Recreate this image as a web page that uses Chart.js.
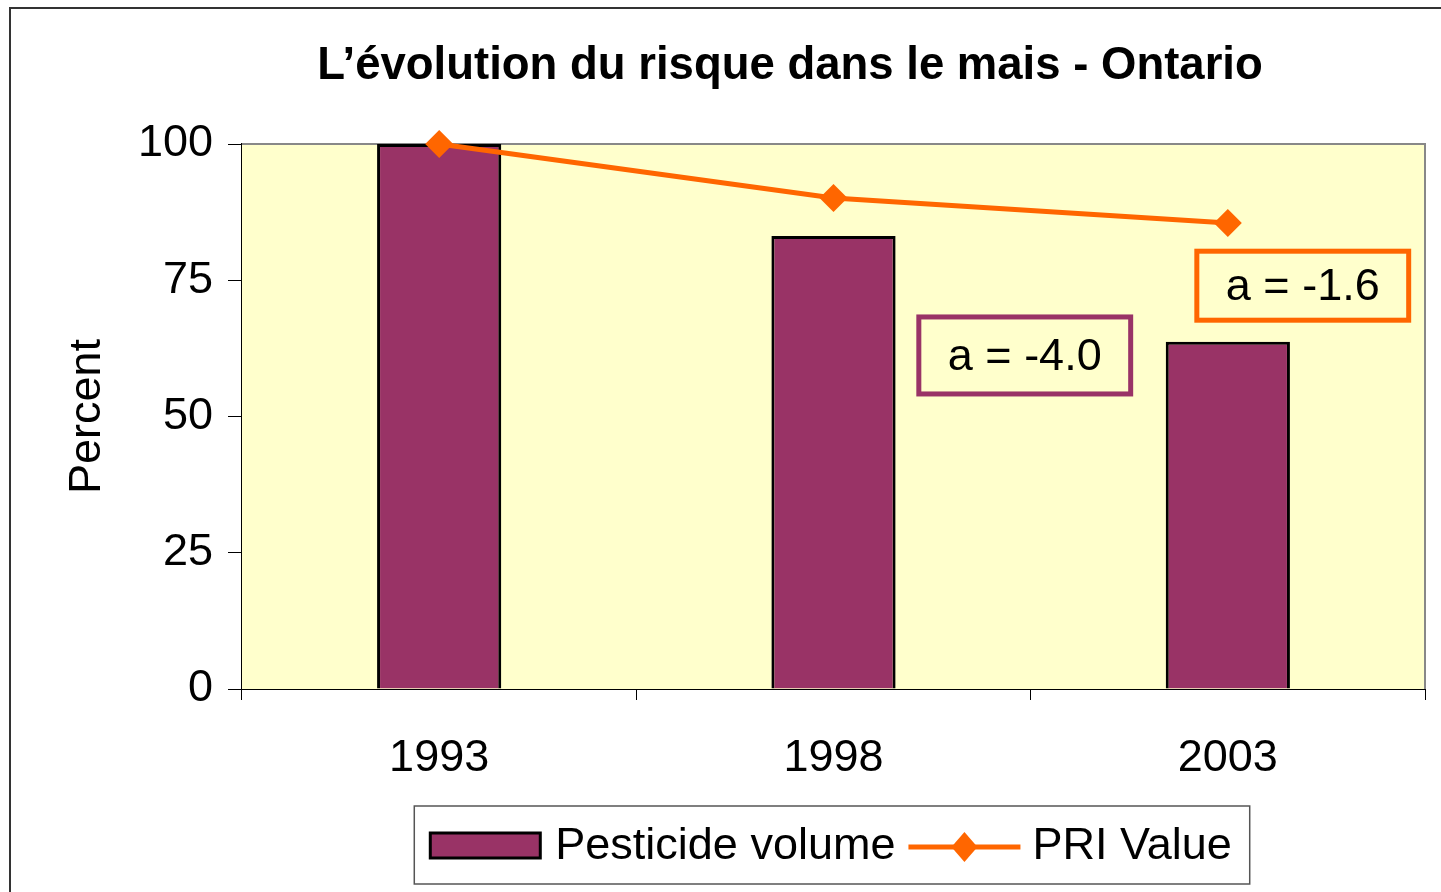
<!DOCTYPE html>
<html>
<head>
<meta charset="utf-8">
<title>L’évolution du risque dans le mais - Ontario</title>
<script src="https://cdn.jsdelivr.net/npm/chart.js@4.4.1/dist/chart.umd.min.js"></script>
<style>
  html, body { margin: 0; padding: 0; background: #fff; overflow: hidden; }
  #wrap { width: 1441px; height: 892px; position: relative; }
</style>
</head>
<body>
<div id="wrap"><canvas id="risk-chart"></canvas></div>
<script>
// Data
const years = ['1993', '1998', '2003'];
const pesticideVolume = [100, 83.1, 63.7];
const priValue = [100, 90.1, 85.5];
const yTicks = [0, 25, 50, 75, 100];

// Slope labels: text, x (category index), y (percent)
const slopeLabels = ['a = -4.0', 'a = -1.6'];
const slopeX = [1.485, 2.19];
const slopeY = [61.2, 74.0];
const slopeColors = ['#993366', '#FF6600'];

const FONT = '"Liberation Sans", Arial, sans-serif';
const PLUM = '#993366';
const ORANGE = '#FF6600';

// Plot background, frame, title, slope boxes and the legend
const decorations = {
    id: 'decorations',
    beforeDatasetsDraw(chart) {
        const { ctx, chartArea: a } = chart;
        ctx.save();
        ctx.fillStyle = '#FFFFCC';
        ctx.fillRect(a.left, a.top, a.right - a.left, a.bottom - a.top);
        ctx.strokeStyle = '#888';
        ctx.lineWidth = 2;
        ctx.beginPath();
        ctx.moveTo(a.left, a.top);
        ctx.lineTo(a.right, a.top);
        ctx.lineTo(a.right, a.bottom);
        ctx.stroke();
        ctx.restore();
    },
    afterDatasetsDraw(chart) {
        const { ctx } = chart;
        const x = chart.scales.x, y = chart.scales.y;
        const heights = [77, 69];
        ctx.save();
        ctx.font = '45px ' + FONT;
        ctx.textAlign = 'center';
        ctx.textBaseline = 'middle';
        slopeLabels.forEach((txt, i) => {
            const cx = x.getPixelForValue(slopeX[i]);
            const cy = y.getPixelForValue(slopeY[i]);
            const w = ctx.measureText(txt).width + 58;
            const h = heights[i];
            ctx.fillStyle = '#FFFFCC';
            ctx.fillRect(cx - w / 2, cy - h / 2, w, h);
            ctx.strokeStyle = slopeColors[i];
            ctx.lineWidth = 5;
            ctx.strokeRect(cx - w / 2, cy - h / 2, w, h);
            ctx.fillStyle = '#000';
            ctx.fillText(txt, cx, cy + 2);
        });
        ctx.restore();
    },
    afterDraw(chart) {
        const { ctx } = chart;
        ctx.save();
        // outer frame
        ctx.strokeStyle = '#333';
        ctx.lineWidth = 2;
        ctx.strokeRect(10, 8, 1460, 920);

        // title
        ctx.fillStyle = '#000';
        ctx.font = 'bold 45.5px ' + FONT;
        ctx.textAlign = 'center';
        ctx.textBaseline = 'middle';
        ctx.fillText('L’évolution du risque dans le mais - Ontario', 790, 66);

        // legend: bar series first, then the line
        const bar = chart.data.datasets[1];
        const line = chart.data.datasets[0];
        ctx.font = '45px ' + FONT;
        const t1 = ctx.measureText(bar.label).width;
        const t2 = ctx.measureText(line.label).width;
        const total = 110 + 15 + t1 + 13 + 112 + 12 + t2;
        const boxW = total + 34, boxH = 78;
        const cx = 832, cy = 845;
        const bx = cx - boxW / 2, by = cy - boxH / 2;
        ctx.fillStyle = '#fff';
        ctx.fillRect(bx, by, boxW, boxH);
        ctx.strokeStyle = '#555';
        ctx.lineWidth = 1.5;
        ctx.strokeRect(bx, by, boxW, boxH);

        let px = bx + 16;
        ctx.fillStyle = bar.backgroundColor;
        ctx.fillRect(px, cy - 12, 110, 25);
        ctx.strokeStyle = '#000';
        ctx.lineWidth = 3;
        ctx.strokeRect(px, cy - 12, 110, 25);
        px += 125;
        ctx.fillStyle = '#000';
        ctx.textAlign = 'left';
        ctx.fillText(bar.label, px, cy + 2);
        px += t1 + 13;
        ctx.strokeStyle = line.borderColor;
        ctx.lineWidth = 5;
        ctx.beginPath();
        ctx.moveTo(px, cy + 2);
        ctx.lineTo(px + 112, cy + 2);
        ctx.stroke();
        ctx.fillStyle = line.borderColor;
        ctx.beginPath();
        const dx = px + 56, dy = cy + 2;
        ctx.moveTo(dx, dy - 15);
        ctx.lineTo(dx + 13, dy);
        ctx.lineTo(dx, dy + 15);
        ctx.lineTo(dx - 13, dy);
        ctx.closePath();
        ctx.fill();
        px += 124;
        ctx.fillStyle = '#000';
        ctx.fillText(line.label, px, cy + 2);
        ctx.restore();
    }
};

const ctx = document.getElementById('risk-chart').getContext('2d');
new Chart(ctx, {
    data: {
        labels: years,
        datasets: [{
            type: 'line',
            label: 'PRI Value',
            data: priValue,
            borderColor: ORANGE,
            backgroundColor: ORANGE,
            borderWidth: 5,
            pointStyle: 'rectRot',
            pointRadius: 14,
            pointBorderWidth: 0,
            pointBackgroundColor: ORANGE,
            tension: 0,
            clip: false,
            order: 0
        }, {
            type: 'bar',
            label: 'Pesticide volume',
            data: pesticideVolume,
            backgroundColor: PLUM,
            borderColor: '#000',
            borderWidth: 3,
            categoryPercentage: 1,
            barPercentage: 0.315,
            order: 1
        }]
    },
    plugins: [decorations],
    options: {
        responsive: true,
        maintainAspectRatio: false,
        animation: false,
        layout: { padding: { top: 144, right: 16, left: 0, bottom: 0 } },
        plugins: {
            legend: { display: false },
            title: { display: false },
            tooltip: { enabled: false }
        },
        scales: {
            x: {
                afterFit: (s) => { s.height = 203; },
                grid: {
                    offset: true,
                    drawOnChartArea: false,
                    drawTicks: true,
                    tickLength: 11,
                    color: '#000',
                    lineWidth: 1
                },
                border: { color: '#000', width: 2 },
                ticks: { color: '#000', font: { family: FONT, size: 45 }, padding: 32 }
            },
            y: {
                min: 0,
                max: 100,
                afterFit: (s) => { s.width = 242; },
                afterBuildTicks: (s) => { s.ticks = yTicks.map(v => ({ value: v })); },
                grid: {
                    drawOnChartArea: false,
                    drawTicks: true,
                    tickLength: 14,
                    color: '#000',
                    lineWidth: 1
                },
                border: { color: '#000', width: 2 },
                ticks: { color: '#000', font: { family: FONT, size: 45 }, padding: 15 },
                title: {
                    display: true,
                    text: 'Percent',
                    color: '#000',
                    font: { family: FONT, size: 45 },
                    padding: { top: 61, bottom: 0 }
                }
            }
        }
    }
});
</script>
</body>
</html>
